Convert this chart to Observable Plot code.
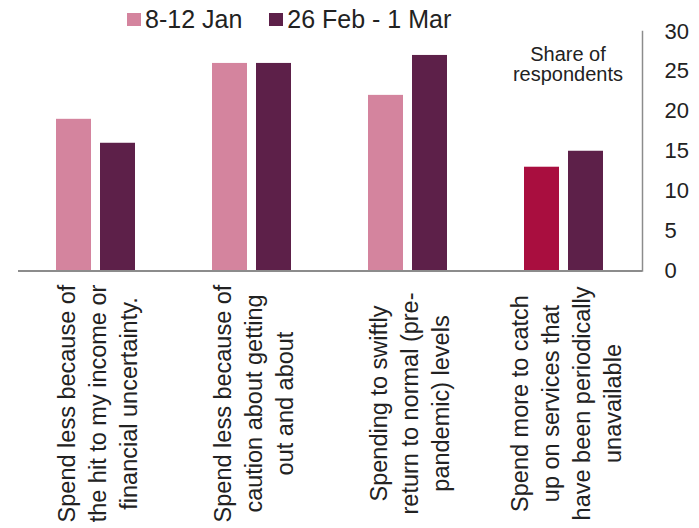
<!DOCTYPE html>
<html><head><meta charset="utf-8">
<script src="https://cdn.jsdelivr.net/npm/d3@7"></script>
<script src="https://cdn.jsdelivr.net/npm/@observablehq/plot@0.6"></script>
<style>
body{margin:0;background:#fff;font-family:"Liberation Sans",Arial,sans-serif;}
#wrap{position:relative;width:699px;height:528px;overflow:hidden;}
#legend{position:absolute;left:127px;top:7px;display:flex;align-items:center;font-size:25px;line-height:25px;color:#222;white-space:nowrap;}
.item{display:flex;align-items:center;margin-right:27px;}
.sw{width:14px;height:13px;display:inline-block;margin-right:4px;}
#unit{position:absolute;left:508px;top:44px;width:120px;text-align:center;font-size:20px;line-height:20px;color:#222;}
</style></head><body>
<div id="wrap"><div id="chart"></div><div id="legend"></div><div id="unit">Share of<br>respondents</div></div>
<script>
const categories = [
  "Spend less because of\nthe hit to my income or\nfinancial uncertainty.",
  "Spend less because of\ncaution about getting\nout and about",
  "Spending to swiftly\nreturn to normal (pre-\npandemic) levels",
  "Spend more to catch\nup on services that\nhave been periodically\nunavailable"
];
const seriesNames = ["8-12 Jan", "26 Feb - 1 Mar"];
const janValues = [19, 26, 22, 13];
const febMarValues = [16, 26, 27, 15];
const janHighlighted = [false, false, false, true];
const seriesColors = ["#d4849e", "#5d2049"];
const highlightColor = "#a90e3f";
const yTicks = [0, 5, 10, 15, 20, 25, 30];

const rows = [];
categories.forEach((c, i) => {
  rows.push({category: c, series: seriesNames[0], value: janValues[i], key: janHighlighted[i] ? "highlight" : seriesNames[0]});
  rows.push({category: c, series: seriesNames[1], value: febMarValues[i], key: seriesNames[1]});
});

const chart = Plot.plot({
  width: 699, height: 528,
  marginTop: 31, marginBottom: 257.5, marginLeft: 16, marginRight: 56,
  style: {fontFamily: '"Liberation Sans", Arial, sans-serif', color: "#222", background: "#fff"},
  fx: {domain: categories, padding: 0, axis: null},
  x: {domain: seriesNames, paddingInner: 0.2, paddingOuter: 0.842, axis: null},
  y: {domain: [0, 30], axis: null},
  color: {domain: [...seriesNames, "highlight"], range: [...seriesColors, highlightColor]},
  marks: [
    Plot.barY(rows, {fx: "category", x: "series", y: "value", fill: "key"}),
    Plot.ruleY([0], {stroke: "#8c8c8c", strokeWidth: 2}),
    Plot.frame({anchor: "right", facetAnchor: "right", stroke: "#8c8c8c", strokeWidth: 1.5}),
    Plot.axisY({anchor: "right", ticks: yTicks, tickSize: 0, tickPadding: 22, fontSize: 22, label: null, fill: "#222"}),
    Plot.text(categories, {fx: d => d, text: d => d, frameAnchor: "bottom", rotate: -90, textAnchor: "middle", lineAnchor: "middle", dy: 132.5, fontSize: 23.5, lineHeight: 1.32, fill: "#222"})
  ]
});
document.getElementById("chart").appendChild(chart);

const legend = document.getElementById("legend");
seriesNames.forEach((s, i) => {
  const item = document.createElement("span");
  item.className = "item";
  const sw = document.createElement("span");
  sw.className = "sw";
  sw.style.background = seriesColors[i];
  item.appendChild(sw);
  item.appendChild(document.createTextNode(s));
  legend.appendChild(item);
});
</script>
</body></html>
